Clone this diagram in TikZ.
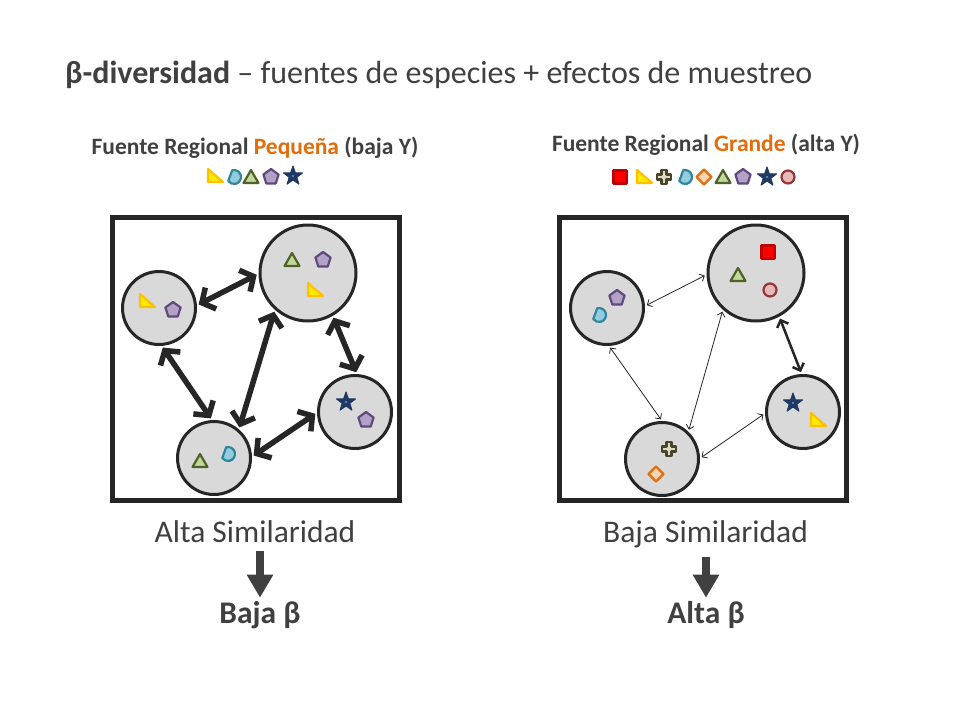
\documentclass[tikz,border=0pt]{standalone}
\usepackage{fontspec}
\setmainfont{Carlito}
\usetikzlibrary{arrows.meta}
\definecolor{ink}{HTML}{404040}
\definecolor{accent}{HTML}{E46C0A}
\definecolor{patchgray}{HTML}{D9D9D9}
\definecolor{edge}{HTML}{262626}
\definecolor{goldline}{HTML}{FFC000}
\definecolor{goldfill}{HTML}{FFEC00}
\definecolor{tealline}{HTML}{31859C}
\definecolor{tealfill}{HTML}{93CDDD}
\definecolor{oliveline}{HTML}{4F6228}
\definecolor{olivefill}{HTML}{C3D69B}
\definecolor{plumline}{HTML}{604A7B}
\definecolor{plumfill}{HTML}{B3A2C7}
\definecolor{navy}{HTML}{1F3864}
\definecolor{navydot}{HTML}{7896C8}
\definecolor{redline}{HTML}{C00000}
\definecolor{redfill}{HTML}{FF0000}
\definecolor{khakiline}{HTML}{4A452A}
\definecolor{khakifill}{HTML}{DDD9C3}
\definecolor{peachfill}{HTML}{FBD4B4}
\definecolor{roseline}{HTML}{953735}
\definecolor{rosefill}{HTML}{E6B9B8}
\begin{document}
\begin{tikzpicture}[auto, x=1pt, y=-1pt,
   patch/.style ={circle, draw=edge, fill=patchgray, line width=3pt, inner sep=0pt, minimum size=73pt},
   bigpatch/.style ={patch, minimum size=96pt},
   region/.style ={draw=edge, line width=5pt, minimum width=287pt, minimum height=283pt},
   strong/.style ={draw=edge, line width=5.5pt, shorten >=2pt, shorten <=2pt,
      {Straight Barb[length=10pt,width=24pt]}-{Straight Barb[length=10pt,width=24pt]}},
   medium/.style ={draw=edge, line width=2.5pt, shorten >=2pt, shorten <=2pt,
      {Straight Barb[length=6pt,width=12pt]}-{Straight Barb[length=6pt,width=12pt]}},
   weak/.style ={draw=edge, line width=0.8pt, shorten >=2pt, shorten <=2pt,
      {Straight Barb[length=4pt,width=8pt]}-{Straight Barb[length=4pt,width=8pt]}},
   down/.style ={draw=ink, line width=8pt, shorten <=9pt, shorten >=3pt, -{Triangle[length=23pt,width=25pt]}},
   label/.style ={text=ink, anchor=base, inner sep=0pt},
   symbol/.style ={line width=2.2pt, line join=round},
   ytri/.pic ={\path[symbol, draw=goldline, fill=goldfill]
      (-7,-7) -- (-7,6) -- (8,6) -- cycle;},
   drop/.pic ={\path[symbol, draw=tealline, fill=tealfill]
      (-105:7) arc[start angle=-105, end angle=145, radius=7] -- cycle;},
   gtri/.pic ={\path[symbol, draw=oliveline, fill=olivefill]
      (0,-7) -- (7.5,6) -- (-7.5,6) -- cycle;},
   pent/.pic ={\path[symbol, draw=plumline, fill=plumfill]
      (270:8) -- (342:8) -- (54:8) -- (126:8) -- (198:8) -- cycle;},
   starx/.pic ={\path[symbol, line width=1pt, draw=navy, fill=navy]
      (270:10) -- (306:4) -- (342:10) -- (18:4) -- (54:10) -- (90:4) -- (126:10) -- (162:4) -- (198:10) -- (234:4) -- cycle;
      \fill[navydot] (0,0) circle (1.2);},
   rsq/.pic ={\path[symbol, draw=redline, fill=redfill]
      (-6.5,-6.5) rectangle (6.5,6.5);},
   plus/.pic ={\path[symbol, draw=khakiline, fill=khakifill]
      (-2.5,-7) -- (2.5,-7) -- (2.5,-2.5) -- (7,-2.5) -- (7,2.5) -- (2.5,2.5) -- (2.5,7) -- (-2.5,7)
      -- (-2.5,2.5) -- (-7,2.5) -- (-7,-2.5) -- (-2.5,-2.5) -- cycle;},
   diam/.pic ={\path[symbol, draw=accent, fill=peachfill]
      (0,-7.5) -- (7.5,0) -- (0,7.5) -- (-7.5,0) -- cycle;},
   ring/.pic ={\path[symbol, draw=roseline, fill=rosefill]
      (0,0) circle (6.5);}]
   \useasboundingbox[fill=white] (0,0) rectangle (960,720);

   \node[label, anchor=base west, font=\fontsize{32}{38}\selectfont] (title) at (65,83)
      {\textbf{β-diversidad} – fuentes de especies + efectos de muestreo};
   \node[label, font=\bfseries\fontsize{23.5}{28}\selectfont] (srcL) at (255,154)
      {Fuente Regional \textcolor{accent}{Pequeña} (baja Y)};
   \node[label, font=\bfseries\fontsize{23.5}{28}\selectfont] (srcR) at (706,151.5)
      {Fuente Regional \textcolor{accent}{Grande} (alta Y)};

   \pic at (215,176) {ytri};
   \pic at (234,177) {drop};
   \pic at (251,177) {gtri};
   \pic at (271,177) {pent};
   \pic at (293,176) {starx};

   \pic at (620,177) {rsq};
   \pic at (644,177) {ytri};
   \pic at (664,177) {plus};
   \pic at (685,177) {drop};
   \pic at (704,177) {diam};
   \pic at (723,177) {gtri};
   \pic at (743,177) {pent};
   \pic at (767,177) {starx};
   \pic at (788,177) {ring};

   \node[region] (boxL) at (256,359) {};
   \node[region] (boxR) at (703,359) {};

   \node[patch] (A) at (159,308) {};
   \node[bigpatch] (B) at (308,273) {};
   \node[patch] (C) at (355,412) {};
   \node[patch] (D) at (214,458) {};

   \node[patch] (E) at (607,308) {};
   \node[bigpatch] (F) at (756,273) {};
   \node[patch] (G) at (803,412) {};
   \node[patch] (H) at (662,459) {};

   \pic at (147,301) {ytri};
   \pic at (173,310) {pent};
   \pic at (292,260) {gtri};
   \pic at (323,260) {pent};
   \pic at (315,290) {ytri};
   \pic at (346,402) {starx};
   \pic at (366,420) {pent};
   \pic at (200,461) {gtri};
   \pic at (228,454) {drop};

   \pic at (617,298) {pent};
   \pic at (599,315) {drop};
   \pic at (768,252) {rsq};
   \pic at (738,275) {gtri};
   \pic at (770,290) {ring};
   \pic at (793,403) {starx};
   \pic at (818,420) {ytri};
   \pic at (669,449) {plus};
   \pic at (656,474) {diam};

   \draw[strong] (A.4) to (B.181);
   \draw[strong] (A.-86) to (D.93);
   \draw[strong] (D.49) to (B.228);
   \draw[strong] (D.2) to (C.181);
   \draw[strong] (B.-60) to (C.87);

   \draw[weak] (E.3) to (F.182);
   \draw[weak] (E.-87) to (H.90);
   \draw[weak] (H.46) to (F.228);
   \draw[weak] (H.1) to (G.182);
   \draw[medium] (F.-62) to (G.92);

   \node[label, font=\fontsize{31.5}{37}\selectfont] (simL) at (255,542) {Alta Similaridad};
   \node[label, font=\bfseries\fontsize{31.5}{37}\selectfont] (betaL) at (260,623) {Baja β};
   \node[label, font=\fontsize{31.5}{37}\selectfont] (simR) at (705.5,542) {Baja Similaridad};
   \node[label, font=\bfseries\fontsize{31.5}{37}\selectfont] (betaR) at (706,623) {Alta β};

   \draw[down] (simL.south -| betaL) to (betaL);
   \draw[down] (simR.south -| betaR) to (betaR);
\end{tikzpicture}
\end{document}
